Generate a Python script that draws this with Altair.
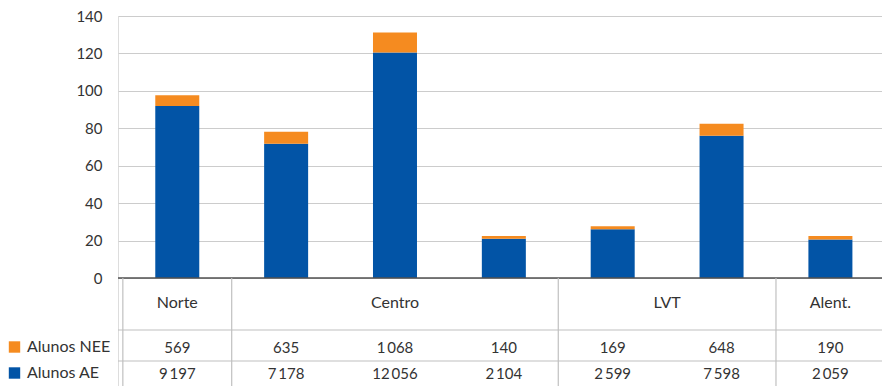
import altair as alt
import pandas as pd

# ---- data ----
col_index = [0, 1, 2, 3, 4, 5, 6]
regions = ["Norte", "Centro", "Centro", "Centro", "LVT", "LVT", "Alent."]
alunos_nee = [569, 635, 1068, 140, 169, 648, 190]
alunos_ae = [9197, 7178, 12056, 2104, 2599, 7598, 2059]
series_names = ["Alunos NEE", "Alunos AE"]
series_colors = ["#F58B20", "#0254A6"]
y_ticks = [0, 20, 40, 60, 80, 100, 120, 140]

FONT = "Lato"
TXT = "#333333"


def fmt(v):
    return f"{v:,}".replace(",", "\u2009")


# long-form bar data (values in hundreds)
rows = []
for i, a, n in zip(col_index, alunos_ae, alunos_nee):
    rows.append({"col": i, "series": "Alunos AE", "value": a / 100, "ord": 0})
    rows.append({"col": i, "series": "Alunos NEE", "value": n / 100, "ord": 1})
bars_df = pd.DataFrame(rows)

# table cells
cells_df = pd.DataFrame({
    "col": col_index,
    "nee": [fmt(v) for v in alunos_nee],
    "ae": [fmt(v) for v in alunos_ae],
})

# region header centers
hdr = {}
for i, r in zip(col_index, regions):
    hdr.setdefault(r, []).append(i)
header_df = pd.DataFrame({
    "region": list(hdr.keys()),
    "center": [sum(v) / len(v) for v in hdr.values()],
})

# vertical separators (left border + region changes)
seps = [col_index[0] - 0.5]
for k in range(1, len(regions)):
    if regions[k] != regions[k - 1]:
        seps.append(col_index[k] - 0.5)
sep_df = pd.DataFrame({"x": seps})

legend_df = pd.DataFrame({"series": series_names, "row": [0, 1]})

W, H = 764, 370
ZERO_Y = 262

xscale = alt.Scale(domain=[-0.4986, 6.428], nice=False, zero=False)
yscale = alt.Scale(domain=[-57.7, 140], nice=False, zero=False)
cscale = alt.Scale(domain=series_names, range=series_colors)
rowscale = alt.Scale(domain=[0, 1], range=[331, 357])

bars = alt.Chart(bars_df).mark_bar(size=44).encode(
    x=alt.X("col:Q", scale=xscale, axis=None),
    y=alt.Y("value:Q", stack="zero", scale=yscale,
            axis=alt.Axis(values=y_ticks, grid=True, gridColor="#CCCCCC",
                          gridWidth=1, domain=False, ticks=False,
                          labelPadding=16, labelFont=FONT, labelFontSize=15,
                          labelColor=TXT, title=None)),
    color=alt.Color("series:N", scale=cscale, legend=None),
    order=alt.Order("ord:Q"),
)

zero_line = alt.Chart(pd.DataFrame({"v": [0]})).mark_rule(
    color="#505050", strokeWidth=1.5).encode(
    y=alt.Y("v:Q", scale=yscale, axis=None), x=alt.value(0), x2=alt.value(W))

hlines = alt.Chart(pd.DataFrame({"y": [314, 345]})).mark_rule(
    color="#C0C0C0", strokeWidth=1.2).encode(
    y=alt.Y("y:Q", scale=None, axis=None), x=alt.value(0), x2=alt.value(W))

vlines = alt.Chart(sep_df).mark_rule(color="#C0C0C0", strokeWidth=1.2).encode(
    x=alt.X("x:Q", scale=xscale, axis=None), y=alt.value(ZERO_Y), y2=alt.value(H))

headers = alt.Chart(header_df).mark_text(
    font=FONT, fontSize=16, color=TXT, baseline="middle").encode(
    x=alt.X("center:Q", scale=xscale, axis=None), y=alt.value(287), text="region:N")

nee_txt = alt.Chart(cells_df).mark_text(
    font=FONT, fontSize=15, color=TXT, baseline="middle").encode(
    x=alt.X("col:Q", scale=xscale, axis=None), y=alt.value(332), text="nee:N")

ae_txt = alt.Chart(cells_df).mark_text(
    font=FONT, fontSize=15, color=TXT, baseline="middle").encode(
    x=alt.X("col:Q", scale=xscale, axis=None), y=alt.value(358), text="ae:N")

leg_sq = alt.Chart(legend_df).mark_square(size=130, opacity=1).encode(
    x=alt.value(-103.5),
    y=alt.Y("row:Q", scale=rowscale, axis=None),
    color=alt.Color("series:N", scale=cscale, legend=None),
)
leg_txt = alt.Chart(legend_df).mark_text(
    font=FONT, fontSize=16, color=TXT, align="left", baseline="middle").encode(
    x=alt.value(-91),
    y=alt.Y("row:Q", scale=rowscale, axis=None),
    text="series:N",
)

chart = alt.layer(
    bars, zero_line, hlines, vlines, headers, nee_txt, ae_txt, leg_sq, leg_txt
).resolve_scale(y="independent").properties(
    width=W, height=H,
    autosize=alt.AutoSizeParams(type="none"),
    padding={"left": 118, "top": 16, "right": 0, "bottom": 0},
).configure_view(stroke=None).configure(background="white")

chart.save("out.html", embed_options={"renderer": "svg", "actions": False})
